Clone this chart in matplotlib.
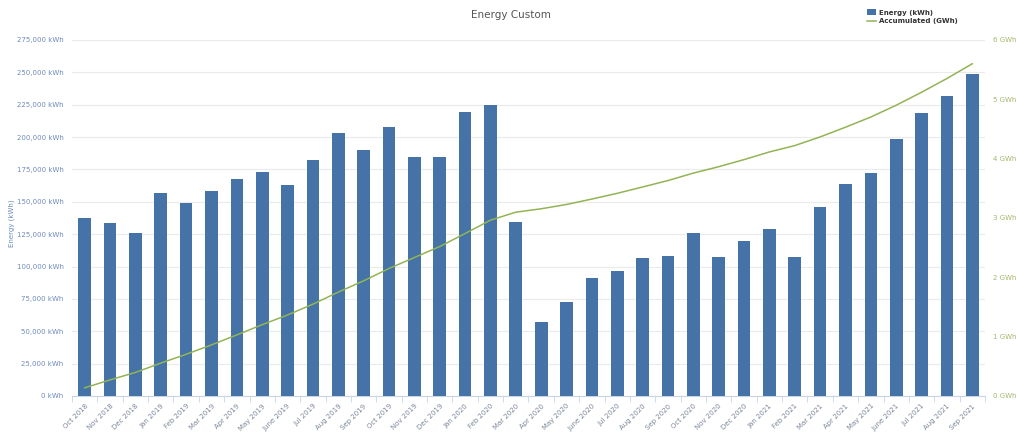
import numpy as np
import matplotlib
matplotlib.use("Agg")
import matplotlib.pyplot as plt
from matplotlib.ticker import FuncFormatter

months = ["Oct 2018", "Nov 2018", "Dec 2018", "Jan 2019", "Feb 2019", "Mar 2019",
          "Apr 2019", "May 2019", "June 2019", "Jul 2019", "Aug 2019", "Sep 2019",
          "Oct 2019", "Nov 2019", "Dec 2019", "Jan 2020", "Feb 2020", "Mar 2020",
          "Apr 2020", "May 2020", "June 2020", "Jul 2020", "Aug 2020", "Sep 2020",
          "Oct 2020", "Nov 2020", "Dec 2020", "Jan 2021", "Feb 2021", "Mar 2021",
          "Apr 2021", "May 2021", "June 2021", "Jul 2021", "Aug 2021", "Sep 2021"]

energy_kwh = [137700, 133400, 126100, 157000, 148800, 158600,
              167800, 173000, 163200, 182300, 203400, 190000,
              207500, 184900, 184900, 219600, 225000, 134700,
              57400, 72600, 91400, 96800, 106600, 108100,
              125700, 107600, 120000, 129000, 107100, 146200,
              163500, 172000, 198800, 218400, 232000, 248500]

# accumulated energy in GWh
accum_gwh = np.cumsum(energy_kwh) / 1e6

BAR = "#4572a7"
LINE = "#93b455"
LEFT_TXT = "#6f8bbd"
RIGHT_TXT = "#a3b86c"

fig = plt.figure(figsize=(10.17, 4.38), dpi=100)
ax = fig.add_axes([0.0708, 0.0959, 0.8977, 0.8128])
x = np.arange(len(months))

ax.bar(x, energy_kwh, width=0.5, color=BAR, zorder=3, label="Energy (kWh)")
ax.set_xlim(-0.5, len(months) - 0.5)
ax.set_ylim(0, 275000)
ax.set_yticks(np.arange(0, 275001, 25000))
ax.yaxis.set_major_formatter(FuncFormatter(lambda v, p: "{:,.0f} kWh".format(v)))
ax.grid(axis="y", color="#ebebeb", linewidth=0.8, zorder=0)
ax.tick_params(axis="y", length=0, labelsize=5, labelcolor=LEFT_TXT, pad=6)
fig.text(0.012, 0.49, "Energy (kWh)", rotation=90, ha="center", va="center",
         fontsize=5, color=LEFT_TXT)

ax.set_xticks(x)
ax.set_xticklabels(months, rotation=45, ha="right", rotation_mode="anchor",
                   fontsize=5, color="#7a8699")
ax.set_xticks(np.arange(-0.5, len(months)), minor=True)
ax.tick_params(axis="x", which="major", length=0, pad=5)
ax.tick_params(axis="x", which="minor", length=4, color="#c9d5e6")

for s in ["top", "right", "left"]:
    ax.spines[s].set_visible(False)
ax.spines["bottom"].set_color("#c9d5e6")

ax2 = ax.twinx()
ax2.plot(x, accum_gwh, color=LINE, linewidth=1.1, zorder=4, label="Accumulated (GWh)")
ax2.set_ylim(0, 6)
ax2.set_yticks(range(0, 7))
ax2.yaxis.set_major_formatter(FuncFormatter(lambda v, p: "{:.0f} GWh".format(v)))
ax2.tick_params(axis="y", length=0, labelsize=5, labelcolor=RIGHT_TXT, pad=6)
for s in ax2.spines.values():
    s.set_visible(False)

fig.text(0.502, 0.965, "Energy Custom", ha="center", va="center",
         fontsize=7.5, color="#555555")

h1, l1 = ax.get_legend_handles_labels()
h2, l2 = ax2.get_legend_handles_labels()
leg = fig.legend(h1 + h2, l1 + l2, loc="upper left", bbox_to_anchor=(0.848, 0.99),
                 frameon=False, fontsize=5, handlelength=1.2, handleheight=0.9,
                 labelspacing=0.35, handletextpad=0.5, borderpad=0.2)
for t in leg.get_texts():
    t.set_color("#333333")
    t.set_fontweight("bold")

fig.savefig("out.png", dpi=100)
